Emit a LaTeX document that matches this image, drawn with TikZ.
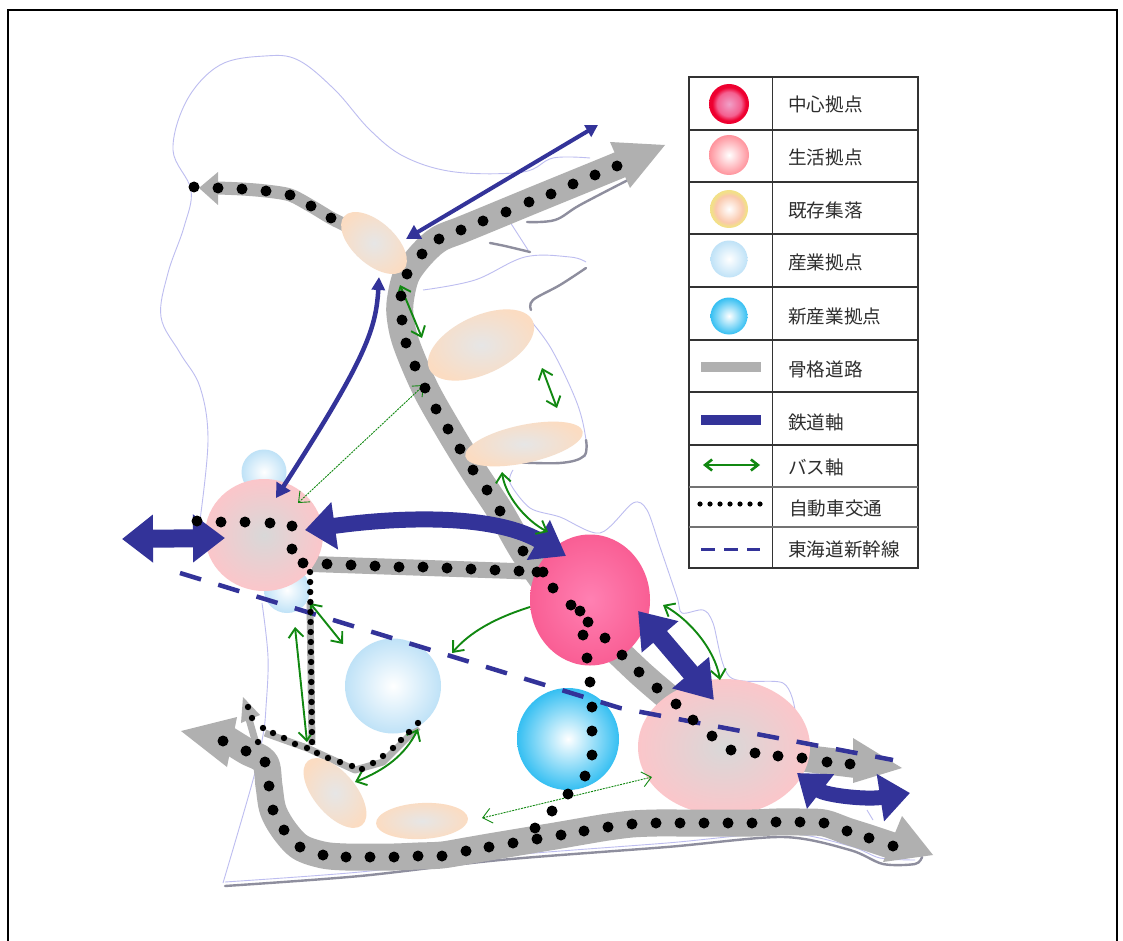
\documentclass[tikz,border=0pt]{standalone}
\usepackage{fontspec}
\newfontfamily\jpfont{Noto Sans CJK JP}
\usetikzlibrary{arrows.meta,shapes.geometric}
\definecolor{railblue}{HTML}{333399}
\definecolor{roadgray}{HTML}{B0B0B0}
\definecolor{busgreen}{HTML}{118811}
\definecolor{outlinec}{HTML}{BDBDF0}
\definecolor{shadowc}{HTML}{8E8E9E}
\definecolor{lifeout}{HTML}{FBC6CA}
\definecolor{lifein}{HTML}{D8D8D8}
\definecolor{centerout}{HTML}{F95E94}
\definecolor{centerin}{HTML}{FF80B2}
\definecolor{indout}{HTML}{BFE2F7}
\definecolor{newout}{HTML}{35BFF2}
\definecolor{setout}{HTML}{FBDCC2}
\definecolor{setin}{HTML}{E6E6E6}
\definecolor{lgA}{HTML}{F0A0C8}\definecolor{lgAb}{HTML}{F46090}\definecolor{lgAc}{HTML}{EE0030}
\definecolor{lgBb}{HTML}{FF939C}
\definecolor{lgC}{HTML}{FFFFFF}\definecolor{lgCb}{HTML}{FAC8AC}\definecolor{lgCc}{HTML}{F2E088}
\pgfdeclareradialshading{lgcenter}{\pgfpoint{0bp}{0bp}}{color(0bp)=(lgA);color(15bp)=(lgAb);color(21bp)=(lgAc);color(50bp)=(lgAc)}
\pgfdeclareradialshading{lgexist}{\pgfpoint{0bp}{0bp}}{color(0bp)=(lgC);color(18bp)=(lgCb);color(23bp)=(lgCc);color(50bp)=(lgCc)}
\tikzset{
  hubnode/.style={ellipse,inner sep=0pt,shade},
  road/.style={line width=#1,draw=roadgray,line cap=butt,line join=round},
  rail/.style={draw=railblue,line width=#1},
  bus/.style={draw=busgreen,line width=1.9pt,{Straight Barb[length=9pt,width=15pt]}-{Straight Barb[length=9pt,width=15pt]}},
  busone/.style={draw=busgreen,line width=1.9pt,-{Straight Barb[length=9pt,width=15pt]}},
  busthin/.style={draw=busgreen,line width=.9pt,dash pattern=on 2pt off 1pt,{Straight Barb[length=9pt,width=15pt]}-{Straight Barb[length=9pt,width=15pt]}},
  outline/.style={draw=outlinec,line width=.9pt},
  shadowline/.style={draw=shadowc,line width=2.4pt,line cap=round},
  legtext/.style={anchor=west,inner sep=0pt,text=black!82,font=\jpfont\fontsize{18.6}{21}\selectfont},
  tabline/.style={draw=black!80,line width=1.3pt},
  shink/.style={draw=railblue,line width=4.5pt,dash pattern=on 22pt off 18pt},
}
\newcommand{\bigdots}[1]{\foreach \p in {#1}{\fill[black] \p circle (5.5pt);}}
\newcommand{\smalldots}[1]{\foreach \p in {#1}{\fill[black] \p circle (3.2pt);}}
\begin{document}
\begin{tikzpicture}[x=1pt,y=-1pt]
\useasboundingbox (0,0) rectangle (1123,941);
\fill[white] (0,0) rectangle (1123,941);
% frame
\draw[black,line width=1.5pt] (8,941) -- (8,10) -- (1117,10) -- (1117,941);

% map outline
\draw[outline] plot[smooth,tension=.6] coordinates {(200,520)(208,440)(200,387)(180,353)(161,317)(168,273)(184,227)(191,190)(173,150)(187,100)(220,65)(265,56)(298,60)(335,90)(370,130)(405,157)(455,172)(523,172)(553,158)(590,158)};
\draw[outline] plot[smooth,tension=.6] coordinates {(423,290)(475,280)(525,257)(570,257)(586,262)};
\draw[outline] plot[smooth,tension=.6] coordinates {(530,320)(552,350)(577,403)(586,440)(585,457)};
\draw[outline] plot[smooth,tension=.5] coordinates {(513,470)(510,483)(530,508)(560,517)(600,533)(633,503)(647,510)(660,547)(677,597)(682,613)(703,610)(713,623)(730,677)(783,683)(795,710)};
\draw[outline] (867,810) -- (873,820);
\draw[outline] plot[smooth,tension=.6] coordinates {(262,603)(268,657)(266,707)(263,735)(253,780)(223,883)};
\draw[shadowline] plot[smooth,tension=.5] coordinates {(225,886)(360,876)(500,860)(667,847)(783,837)(850,850)(883,864)(915,864)(922,857)};
\draw[outline] plot[smooth,tension=.5] coordinates {(225,882)(360,872)(500,856)(667,843)(783,833)(850,846)(880,858)(915,860)};
\draw[shadowline] plot[smooth,tension=.6] coordinates {(527,222)(555,220)(580,205)(628,180)};
\draw[shadowline] plot[smooth,tension=.6] coordinates {(490,243)(505,246)(530,252)};
\draw[outline] (510,222) -- (528,250);
\draw[shadowline] plot[smooth,tension=.6] coordinates {(586,268)(560,285)(533,300)(531,310)};
\draw[shadowline] plot[smooth,tension=.6] coordinates {(586,440)(584,456)(560,463)(510,462)};

% industrial hubs behind
\node[hubnode,inner color=white,outer color=indout,minimum width=45pt,minimum height=45pt] (indA) at (264,472) {};
\node[hubnode,inner color=white,outer color=indout,minimum width=46pt,minimum height=46pt] (indB) at (287,590) {};

% roads below hubs
\draw[road=27pt] plot[smooth,tension=.55] coordinates {(550,590)(523,551)(500,511)(473,470)(448,429)(425,388)(406,343)(400,315)(401,296)(407,274)(422,254)(439,239)(461,230)(483,221)(529,202)(573,184)(617,166)(628,161)};
\fill[roadgray] (665,145) -- (610,142) -- (630,188) -- cycle;
\draw[road=27pt] plot[smooth,tension=.5] coordinates {(590,625)(639,672)(676,704)(712,736)(755,753)(802,758)(860,765)};
\fill[roadgray] (902,768) -- (853,738) -- (853,783) -- cycle;
\draw[road=16pt] (312,564) -- (399,567) -- (543,572);
\draw[road=13pt] plot[smooth,tension=.5] coordinates {(345,225)(331,218)(311,206)(290,195)(266,191)(242,189)(218,188)};
\fill[roadgray] (199,188) -- (218,172) -- (218,205) -- cycle;
\draw[road=7pt] (310,603) -- (312,745);
\draw[road=7pt] (265,733) -- (307,748) -- (355,770) -- (383,762) -- (418,727);
\draw[road=7pt] (255,740) -- (247,712);
\fill[roadgray] (243,697) -- (241,723) -- (260,715) -- cycle;

% hubs
\node[hubnode,inner color=lifein,outer color=lifeout,minimum width=118pt,minimum height=112pt] (lifeL) at (264,535) {};
\node[hubnode,inner color=lifein,outer color=lifeout,minimum width=172pt,minimum height=136pt] (lifeR) at (724,747) {};
\node[hubnode,inner color=centerin,outer color=centerout,minimum width=120pt,minimum height=131pt] (centerhub) at (590,600) {};
\node[hubnode,inner color=white,outer color=newout,minimum width=102pt,minimum height=102pt] (newind) at (568,739) {};
\node[hubnode,inner color=white,outer color=indout,minimum width=96pt,minimum height=95pt] (indC) at (393,686) {};
\node[hubnode,inner color=setin,outer color=setout,minimum width=80pt,minimum height=42pt,rotate=-42] (settleA) at (374,243) {};
\node[hubnode,inner color=setin,outer color=setout,minimum width=114pt,minimum height=58pt,rotate=25] (settleB) at (481,345) {};
\node[hubnode,inner color=setin,outer color=setout,minimum width=120pt,minimum height=38pt,rotate=12] (settleC) at (524,444) {};
\node[hubnode,inner color=setin,outer color=setout,minimum width=84pt,minimum height=42pt,rotate=-50] (settleD) at (335,793) {};
\node[hubnode,inner color=setin,outer color=setout,minimum width=92pt,minimum height=36pt,rotate=3] (settleE) at (422,821) {};

% bottom road above hubs
\draw[road=27pt] plot[smooth,tension=.55] coordinates {(225,738)(246,751)(265,762)(269,786)(273,810)(284,830)(300,847)(323,855)(346,857)(370,857)(394,857)(418,856)(442,855)(466,851)(489,847)(513,843)(537,839)(561,835)(584,831)(608,827)(632,824)(656,823)(680,823)(704,823)(728,823)(752,823)(776,822)(800,822)(824,823)(847,831)(869,838)(893,846)};
\fill[roadgray] (181,731) -- (237,717) -- (227,767) -- cycle;
\fill[roadgray] (933,855) -- (902,816) -- (883,862) -- cycle;

% shinkansen
\coordinate (shinA) at (180,573);
\coordinate (shinB) at (620,708);
\coordinate (shinC) at (893,760);
\draw[shink] (shinA) -- (shinB) -- (shinC);

% rail axes
\coordinate (rA1) at (122,539); \coordinate (rA2) at (225,538);
\draw[rail=18pt,{Triangle[length=31pt,width=46pt]}-{Triangle[length=32pt,width=46pt]}] (rA1) -- (rA2);
\coordinate (rB1) at (305,530); \coordinate (rB2) at (566,556);
\draw[rail=16pt,{Triangle[length=30pt,width=46pt]}-{Triangle[length=32pt,width=44pt]}] (rB1) .. controls (390,518) and (490,512) .. (rB2);
\coordinate (rC1) at (638,611); \coordinate (rC2) at (714,700);
\draw[rail=18pt,{Triangle[length=34pt,width=46pt]}-{Triangle[length=36pt,width=46pt]}] (rC1) -- (rC2);
\coordinate (rD1) at (797,773); \coordinate (rD2) at (910,793);
\draw[rail=15pt,{Triangle[length=30pt,width=42pt]}-{Triangle[length=30pt,width=46pt]}] (rD1) .. controls (825,795) and (865,800) .. (rD2);
\coordinate (rE1) at (406,239); \coordinate (rE2) at (598,125);
\draw[rail=4pt,{Triangle[length=14pt,width=15pt]}-{Triangle[length=12pt,width=13pt]}] (rE1) -- (rE2);
\coordinate (rF1) at (379,277); \coordinate (rF2) at (276,498);
\draw[rail=4.5pt,{Triangle[length=13pt,width=13pt]}-{Triangle[length=14pt,width=16pt]}] (rF1) .. controls (376,330) and (365,360) .. (rF2);

% bus axes
\coordinate (bA1) at (400,285); \coordinate (bA2) at (422,338);
\draw[bus] (bA1) -- (bA2);
\coordinate (bB1) at (542,368); \coordinate (bB2) at (557,408);
\draw[bus] (bB1) -- (bB2);
\coordinate (bC1) at (502,472); \coordinate (bC2) at (548,532);
\draw[bus] (bC1) .. controls (505,495) and (525,520) .. (bC2);
\coordinate (bD1) at (298,503); \coordinate (bD2) at (424,385);
\draw[busthin] (bD1) -- (bD2);
\coordinate (bE1) at (530,607); \coordinate (bE2) at (452,653);
\draw[busone] (bE1) .. controls (495,618) and (470,632) .. (bE2);
\coordinate (bF1) at (310,603); \coordinate (bF2) at (343,644);
\draw[bus] (bF1) -- (bF2);
\coordinate (bG1) at (295,627); \coordinate (bG2) at (307,742);
\draw[bus] (bG1) -- (bG2);
\coordinate (bH1) at (418,729); \coordinate (bH2) at (355,782);
\draw[bus] (bH1) .. controls (405,755) and (385,770) .. (bH2);
\coordinate (bI1) at (482,818); \coordinate (bI2) at (652,777);
\draw[busthin] (bI1) -- (bI2);
\coordinate (bJ1) at (663,605); \coordinate (bJ2) at (720,680);
\draw[bus] (bJ1) .. controls (690,620) and (715,650) .. (bJ2);

% car traffic dots
\bigdots{(194,187),(218,188),(242,189),(266,191),(290,195),(311,206),(331,218)}
\bigdots{(617,166),(595,175),(573,184),(551,194),(529,202),(506,212),(483,221),(461,230),(439,239),(422,254),(407,274),(401,296),(402,320),(406,343),(415,366),(425,388),(436,409),(448,429),(460,449),(473,470),(487,490),(500,511),(523,551)}
\bigdots{(553,588),(571,605),(580,611),(588,622),(583,635),(605,638),(587,658),(590,682),(592,707),(592,731),(592,755),(585,776),(568,794),(552,811),(535,828)}
\bigdots{(622,655),(639,672),(657,688),(676,704),(693,720),(712,736),(731,750),(755,753),(778,756),(802,758),(827,762),(850,764)}
\bigdots{(327,564),(351,565),(375,566),(399,567),(423,567),(447,568),(471,569),(495,570),(519,571),(537,572),(543,572)}
\bigdots{(197,521),(221,522),(245,522),(270,523),(292,526),(292,549),(303,563)}
\bigdots{(223,741),(246,751),(265,762),(269,786),(273,810),(284,830),(300,847),(323,855),(346,857),(370,857),(394,857),(418,856),(442,856),(466,851),(489,847),(513,843),(537,839),(561,835),(584,831),(608,827),(632,824),(656,823),(680,823),(704,823),(728,823),(752,823),(776,822),(800,822),(824,823),(847,831),(869,838),(893,846)}
\foreach \i in {0,...,17} {\fill[black] ({310+\i*0.12},{572+\i*10}) circle (3.2pt);}
\smalldots{(307,748),(295,744),(284,738),(273,733),(263,728),(258,742),(252,718),(248,707)}
\smalldots{(317,753),(328,758),(340,762),(352,766),(362,769),(373,763),(383,756),(393,748),(401,740),(409,732),(418,723)}

% legend
\draw[tabline] (689,77) rectangle (918,568);
\draw[tabline,line width=1pt] (772,77) -- (772,568);
\foreach \yy in {130,182,234,287,340,392,445} {\draw[tabline] (689,\yy) -- (918,\yy);}
\foreach \yy in {487,527} {\draw[tabline,draw=black!55] (689,\yy) -- (918,\yy);}
\node[circle,inner sep=0pt,minimum size=40pt,shading=lgcenter] (legA) at (729,104) {};
\node[circle,inner sep=0pt,minimum size=40pt,inner color=white,outer color=lgBb] (legB) at (729,155) {};
\node[circle,inner sep=0pt,minimum size=38pt,shading=lgexist] (legC) at (729,209) {};
\node[circle,inner sep=0pt,minimum size=37pt,inner color=white,outer color=indout] (legD) at (729,259) {};
\node[circle,inner sep=0pt,minimum size=37pt,inner color=white,outer color=newout] (legE) at (729,316) {};
\fill[roadgray] (701,362) rectangle (761,372);
\fill[railblue] (701,415) rectangle (761,425);
\coordinate (legG1) at (703,465); \coordinate (legG2) at (760,465);
\draw[draw=busgreen,line width=2.6pt,{Straight Barb[length=7pt,width=11pt]}-{Straight Barb[length=7pt,width=11pt]}] (legG1) -- (legG2);
\foreach \i in {0,...,6} {\fill[black] ({700+\i*10},504) circle (2.6pt);}
\coordinate (legH1) at (701,549); \coordinate (legH2) at (760,549);
\draw[draw=railblue,line width=3pt,dash pattern=on 14pt off 9pt] (legH1) -- (legH2);
\node[legtext] (tA) at (788,104) {中心拠点};
\node[legtext] (tB) at (788,157) {生活拠点};
\node[legtext] (tC) at (788,210) {既存集落};
\node[legtext] (tD) at (788,262) {産業拠点};
\node[legtext] (tE) at (788,316) {新産業拠点};
\node[legtext] (tF) at (788,369) {骨格道路};
\node[legtext] (tG) at (788,422) {鉄道軸};
\node[legtext] (tH) at (788,467) {バス軸};
\node[legtext] (tI) at (789,508) {自動車交通};
\node[legtext] (tJ) at (788,549) {東海道新幹線};
\end{tikzpicture}
\end{document}
